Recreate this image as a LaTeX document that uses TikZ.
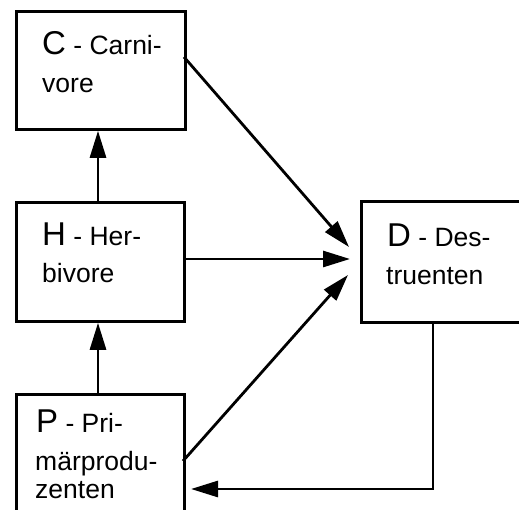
\documentclass[tikz,border=0pt]{standalone}
\usepackage{fontspec}
\setmainfont{Liberation Sans}
\usetikzlibrary{arrows.meta,calc}

\tikzset{
  box/.style={draw, line width=2.8pt, inner sep=0pt, anchor=north west},
  lbl/.style={anchor=base west, inner sep=0pt, font=\fontsize{26.5}{26.5}\selectfont},
  flow/.style={line width=2.8pt, -{Triangle[length=27pt,width=16pt]}},
}
\newcommand{\initial}[1]{{\fontsize{33}{33}\selectfont #1}}

\begin{document}
\begin{tikzpicture}[x=1pt,y=-1pt]
  \useasboundingbox (0,0) rectangle (519,510);
  \clip (0,0) rectangle (519,510);

  % compartments of the food web
  \node[box, minimum width=169pt, minimum height=118pt] (C) at (15,10) {};
  \node[box, minimum width=168pt, minimum height=119pt] (H) at (15,201) {};
  \node[box, minimum width=168pt, minimum height=130pt] (P) at (15,393) {};
  \node[box, minimum width=170pt, minimum height=121pt] (D) at (360,200) {};

  % labels
  \node[lbl] (C1) at ($(C.north west)+(27,45)$) {\initial{C} - Carni-};
  \node[lbl] (C2) at ($(C.north west)+(27,83)$) {vore};
  \node[lbl] (H1) at ($(H.north west)+(27,45)$) {\initial{H} - Her-};
  \node[lbl] (H2) at ($(H.north west)+(27,82)$) {bivore};
  \node[lbl] (P1) at ($(P.north west)+(21,39)$) {\initial{P} - Pri-};
  \node[lbl] (P2) at ($(P.north west)+(20,77)$) {märprodu-};
  \node[lbl] (P3) at ($(P.north west)+(20,105)$) {zenten};
  \node[lbl] (D1) at ($(D.north west)+(27,47)$) {\initial{D} - Des-};
  \node[lbl] (D2) at ($(D.north west)+(26,85)$) {truenten};

  % arrow ends in front of the decomposer box
  \coordinate (dC) at (349,247);
  \coordinate (dH) at (350,259);
  \coordinate (dP) at (348,275);
  \coordinate (back) at (433,489);
  \coordinate (pIn) at (191,489);

  % flows
  \draw[flow] (H.north -| 98,0) -- (C.south -| 98,0);
  \draw[flow] (P.north -| 98,0) -- (H.south -| 98,0);
  \draw[flow] (184,57) -- (dC);
  \draw[flow] (H.east |- dH) -- (dH);
  \draw[flow] (183,461) -- (dP);
  \draw[flow] (D.south -| back) -- (back) -- (pIn);
\end{tikzpicture}
\end{document}
